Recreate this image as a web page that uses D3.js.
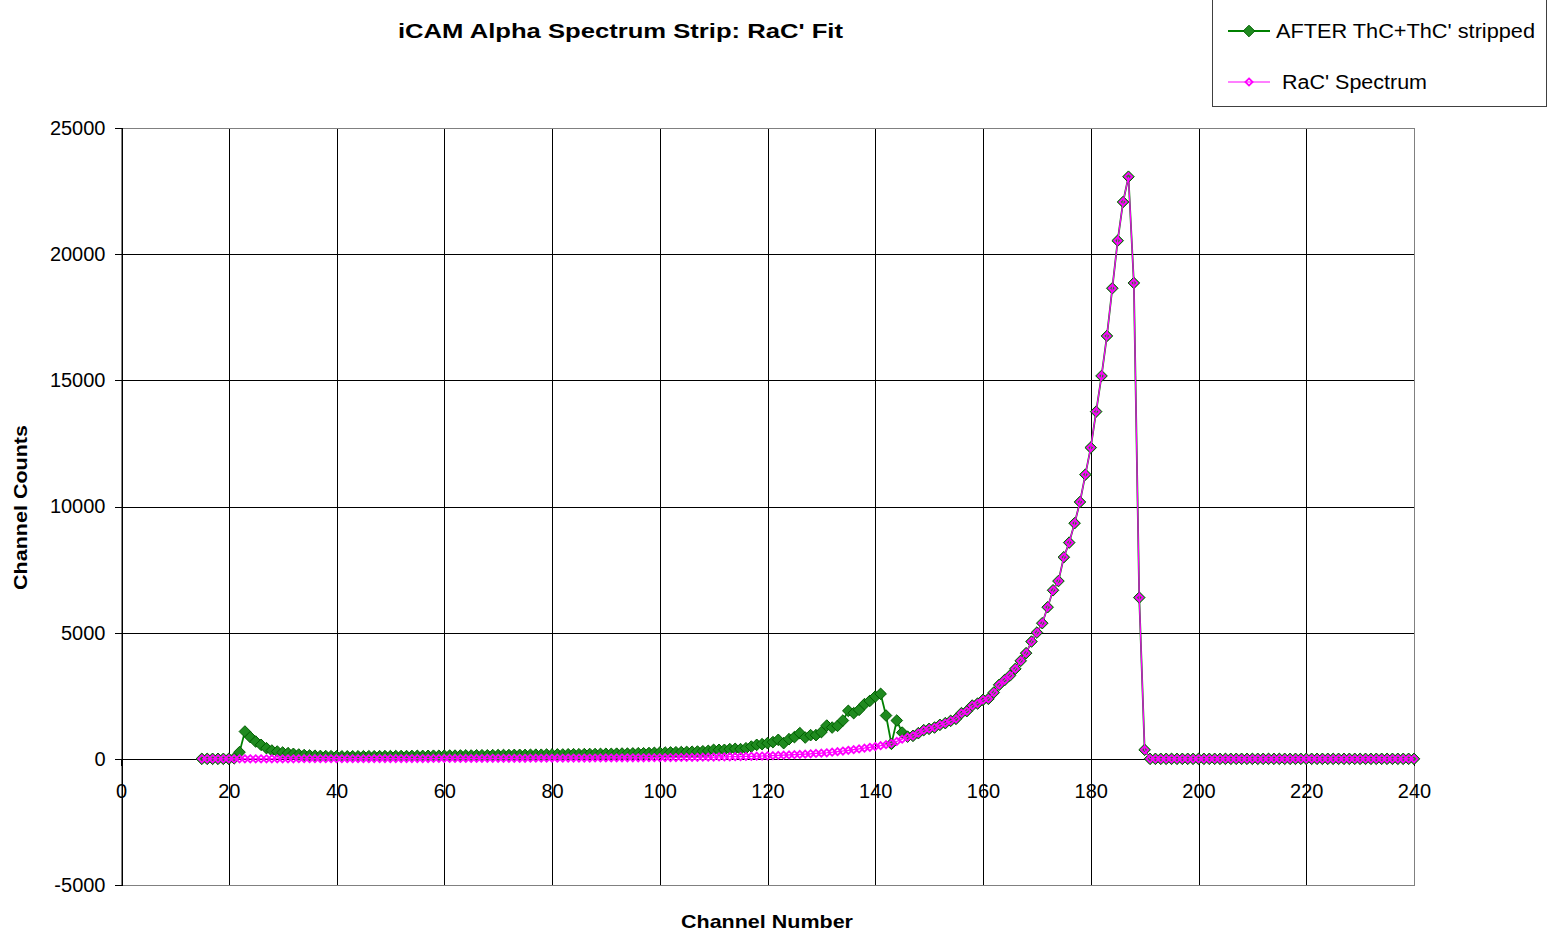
<!DOCTYPE html>
<html>
<head>
<meta charset="utf-8">
<script src="https://cdn.jsdelivr.net/npm/d3@7"></script>
<style>
  html, body { margin: 0; padding: 0; background: #fff; }
  svg { display: block; font-family: "Liberation Sans", Arial, sans-serif; }
</style>
</head>
<body>
<svg id="chart" width="1557" height="932"></svg>
<script>
// Alpha spectrum: counts per channel, starting at channel 15 and ending at channel 240
const firstChannel = 15;

// Spectrum after ThC + ThC' stripping
const strippedCounts = [
  0, 0, 0, 0, 0, 0,                                             // 15-20
  20, 265, 1082, 860, 685, 555, 423, 330, 290, 251,             // 21-30
  225, 198, 172, 150, 135, 125, 115, 110, 105, 100,             // 31-40
  100, 98, 102, 100, 103, 105, 102, 106, 108, 107,              // 41-50
  110, 112, 109, 115, 118, 116, 120, 124, 122, 126,             // 51-60
  130, 128, 134, 136, 133, 140, 142, 139, 146, 148,             // 61-70
  152, 150, 156, 158, 155, 162, 165, 163, 170, 172,             // 71-80
  176, 174, 180, 184, 182, 188, 192, 190, 196, 200,             // 81-90
  198, 205, 210, 208, 215, 222, 220, 230, 238, 245,             // 91-100
  250, 255, 262, 268, 275, 282, 290, 300, 317, 357,             // 101-110
  357, 357, 384, 396, 384, 420, 487, 555, 582, 622,             // 111-120
  662, 753, 622, 780, 860, 1018, 844, 939, 939, 1058,           // 121-130
  1319, 1240, 1307, 1518, 1902, 1811, 1941, 2167, 2298, 2468,   // 131-140
  2575, 1716, 594, 1518, 1040, 880, 911, 1018, 1137, 1189,      // 141-150
  1240, 1347, 1414, 1506, 1585, 1811, 1890, 2112, 2191, 2338,   // 151-160
  2377, 2627, 2932, 3118, 3300, 3566, 3883, 4188, 4648, 5004,   // 161-170
  5376, 6010, 6680, 7045, 7991, 8570, 9338, 10180, 11264, 12334,      // 171-180
  13760, 15174, 16759, 18649, 20535, 22068, 23070, 18859, 6391, 357,  // 181-190
  0, 0, 0, 0, 0, 0, 0, 0, 0, 0,                                 // 191-200
  0, 0, 0, 0, 0, 0, 0, 0, 0, 0,                                 // 201-210
  0, 0, 0, 0, 0, 0, 0, 0, 0, 0,                                 // 211-220
  0, 0, 0, 0, 0, 0, 0, 0, 0, 0,                                 // 221-230
  0, 0, 0, 0, 0, 0, 0, 0, 0, 0                                  // 231-240
];

// Fitted RaC' spectrum
const racCounts = [
  0, 0, 0, 0, 0, 0,                                             // 15-20
  1, 1, 1, 1, 2, 2, 2, 2, 3, 3,                                 // 21-30
  3, 3, 4, 4, 4, 5, 5, 5, 6, 6,                                 // 31-40
  6, 7, 7, 7, 8, 8, 9, 9, 10, 10,                               // 41-50
  10, 11, 11, 12, 12, 13, 13, 14, 14, 15,                       // 51-60
  15, 16, 16, 17, 17, 18, 18, 19, 20, 20,                       // 61-70
  21, 21, 22, 23, 23, 24, 25, 25, 26, 27,                       // 71-80
  27, 28, 29, 30, 31, 31, 32, 33, 34, 35,                       // 81-90
  36, 37, 38, 39, 40, 41, 42, 44, 45, 46,                       // 91-100
  48, 50, 52, 54, 56, 58, 61, 64, 67, 70,                       // 101-110
  74, 78, 82, 86, 90, 95, 100, 106, 112, 119,                   // 111-120
  127, 135, 144, 153, 163, 174, 186, 199, 213, 226,             // 121-130
  240, 262, 285, 310, 336, 364, 393, 424, 455, 487,             // 131-140
  522, 562, 610, 690, 780, 860, 911, 1018, 1137, 1189,          // 141-150
  1240, 1347, 1414, 1506, 1585, 1811, 1890, 2112, 2191, 2338,   // 151-160
  2377, 2627, 2932, 3118, 3300, 3566, 3883, 4188, 4648, 5004,   // 161-170
  5376, 6010, 6680, 7045, 7991, 8570, 9338, 10180, 11264, 12334,      // 171-180
  13760, 15174, 16759, 18649, 20535, 22068, 23070, 18859, 6391, 357,  // 181-190
  0, 0, 0, 0, 0, 0, 0, 0, 0, 0,                                 // 191-200
  0, 0, 0, 0, 0, 0, 0, 0, 0, 0,                                 // 201-210
  0, 0, 0, 0, 0, 0, 0, 0, 0, 0,                                 // 211-220
  0, 0, 0, 0, 0, 0, 0, 0, 0, 0,                                 // 221-230
  0, 0, 0, 0, 0, 0, 0, 0, 0, 0                                  // 231-240
];

const xTicks = [0, 20, 40, 60, 80, 100, 120, 140, 160, 180, 200, 220, 240];
const yTicks = [-5000, 0, 5000, 10000, 15000, 20000, 25000];

const seriesNames = ["AFTER ThC+ThC' stripped", "RaC' Spectrum"];
const titleText = "iCAM Alpha Spectrum Strip: RaC' Fit";
const xTitle = "Channel Number";
const yTitle = "Channel Counts";

// ---- layout ----
const plot = { left: 121, right: 1414, top: 128, bottom: 885 };

const svg = d3.select("#chart");

const x = d3.scaleLinear().domain([0, 240]).range([plot.left, plot.right]);
const y = d3.scaleLinear().domain([-5000, 25000]).range([plot.bottom, plot.top]);

const toPoints = arr => arr.map((v, i) => ({ ch: firstChannel + i, v }));
const stripped = toPoints(strippedCounts);
const rac = toPoints(racCounts);

// gridlines
const grid = svg.append("g").attr("shape-rendering", "crispEdges");
grid.selectAll("line.h").data(yTicks).join("line")
  .attr("x1", plot.left).attr("x2", plot.right)
  .attr("y1", d => Math.round(y(d)) + 0.5).attr("y2", d => Math.round(y(d)) + 0.5)
  .attr("stroke", "#000").attr("stroke-width", 1);
grid.selectAll("line.v").data(xTicks.slice(1, -1)).join("line")
  .attr("y1", plot.top).attr("y2", plot.bottom)
  .attr("x1", d => Math.round(x(d)) + 0.5).attr("x2", d => Math.round(x(d)) + 0.5)
  .attr("stroke", "#000").attr("stroke-width", 1);

// plot frame
svg.append("rect")
  .attr("x", plot.left + 0.5).attr("y", plot.top + 0.5)
  .attr("width", plot.right - plot.left).attr("height", plot.bottom - plot.top)
  .attr("fill", "none").attr("stroke", "#808080").attr("stroke-width", 1)
  .attr("shape-rendering", "crispEdges");

// axes
const fontSize = 20;
const plainFormat = d => String(d);   // keeps a plain hyphen on negative values
const yAxis = svg.append("g")
  .attr("transform", `translate(${plot.left + 0.5},0)`)
  .call(d3.axisLeft(y).tickValues(yTicks).tickSize(7).tickPadding(9).tickFormat(plainFormat));
const xAxis = svg.append("g")
  .attr("transform", `translate(0,${Math.round(y(0)) + 0.5})`)
  .call(d3.axisBottom(x).tickValues(xTicks).tickSize(6).tickPadding(18).tickFormat(plainFormat));
[xAxis, yAxis].forEach(g => {
  g.attr("shape-rendering", "crispEdges");
  g.select(".domain").attr("stroke", "#000");
  g.selectAll(".tick line").attr("stroke", "#000");
  g.selectAll(".tick text")
    .attr("font-family", "'Liberation Sans', Arial, sans-serif")
    .attr("font-size", fontSize).attr("fill", "#000");
});
xAxis.select(".domain").attr("d", `M${plot.left},0H${plot.right}`);

// series lines
const line = d3.line().x(d => x(d.ch)).y(d => y(d.v));
const diamond = r => `M0,${-r}L${r},0L0,${r}L${-r},0Z`;

svg.append("path").datum(stripped)
  .attr("d", line).attr("fill", "none")
  .attr("stroke", "#008000").attr("stroke-width", 1.8);
svg.append("g").selectAll("path").data(stripped).join("path")
  .attr("transform", d => `translate(${x(d.ch)},${y(d.v)})`)
  .attr("d", diamond(5.8))
  .attr("fill", "#1f8a1f").attr("stroke", "#005f00").attr("stroke-width", 1);

svg.append("path").datum(rac)
  .attr("d", line).attr("fill", "none")
  .attr("stroke", "#ff00ff").attr("stroke-width", 1.2);
svg.append("g").selectAll("path").data(rac).join("path")
  .attr("transform", d => `translate(${x(d.ch)},${y(d.v)})`)
  .attr("d", diamond(3.6))
  .attr("fill", "none").attr("stroke", "#ff00ff").attr("stroke-width", 1.8);

// titles (stretched to the widths of the wide bold face)
svg.append("text")
  .attr("x", 398).attr("y", 38)
  .attr("textLength", 445).attr("lengthAdjust", "spacingAndGlyphs")
  .attr("font-size", 21).attr("font-weight", "bold").text(titleText);
svg.append("text")
  .attr("x", 681).attr("y", 928)
  .attr("textLength", 172).attr("lengthAdjust", "spacingAndGlyphs")
  .attr("font-size", 19).attr("font-weight", "bold").text(xTitle);
svg.append("text")
  .attr("transform", `translate(27,590) rotate(-90)`)
  .attr("textLength", 165).attr("lengthAdjust", "spacingAndGlyphs")
  .attr("font-size", 19).attr("font-weight", "bold").text(yTitle);

// legend
const legend = svg.append("g");
legend.append("rect")
  .attr("x", 1212.5).attr("y", -0.5).attr("width", 334).attr("height", 107)
  .attr("fill", "#fff").attr("stroke", "#404040").attr("stroke-width", 1)
  .attr("shape-rendering", "crispEdges");
const legendItems = [
  { name: seriesNames[0], y: 31, color: "#008000", width: 1.8, r: 5.8, fill: "#1f8a1f", mstroke: "#005f00", mw: 1, tx: 1276, len: 259 },
  { name: seriesNames[1], y: 82, color: "#ff00ff", width: 1.2, r: 3.6, fill: "none", mstroke: "#ff00ff", mw: 1.8, tx: 1282, len: 145 }
];
legendItems.forEach(it => {
  legend.append("line")
    .attr("x1", 1228).attr("x2", 1270).attr("y1", it.y).attr("y2", it.y)
    .attr("stroke", it.color).attr("stroke-width", it.width);
  legend.append("path")
    .attr("transform", `translate(1249,${it.y})`).attr("d", diamond(it.r))
    .attr("fill", it.fill).attr("stroke", it.mstroke).attr("stroke-width", it.mw);
  legend.append("text")
    .attr("x", it.tx).attr("y", it.y + 7)
    .attr("textLength", it.len).attr("lengthAdjust", "spacingAndGlyphs")
    .attr("font-size", 20).text(it.name);
});
</script>
</body>
</html>
